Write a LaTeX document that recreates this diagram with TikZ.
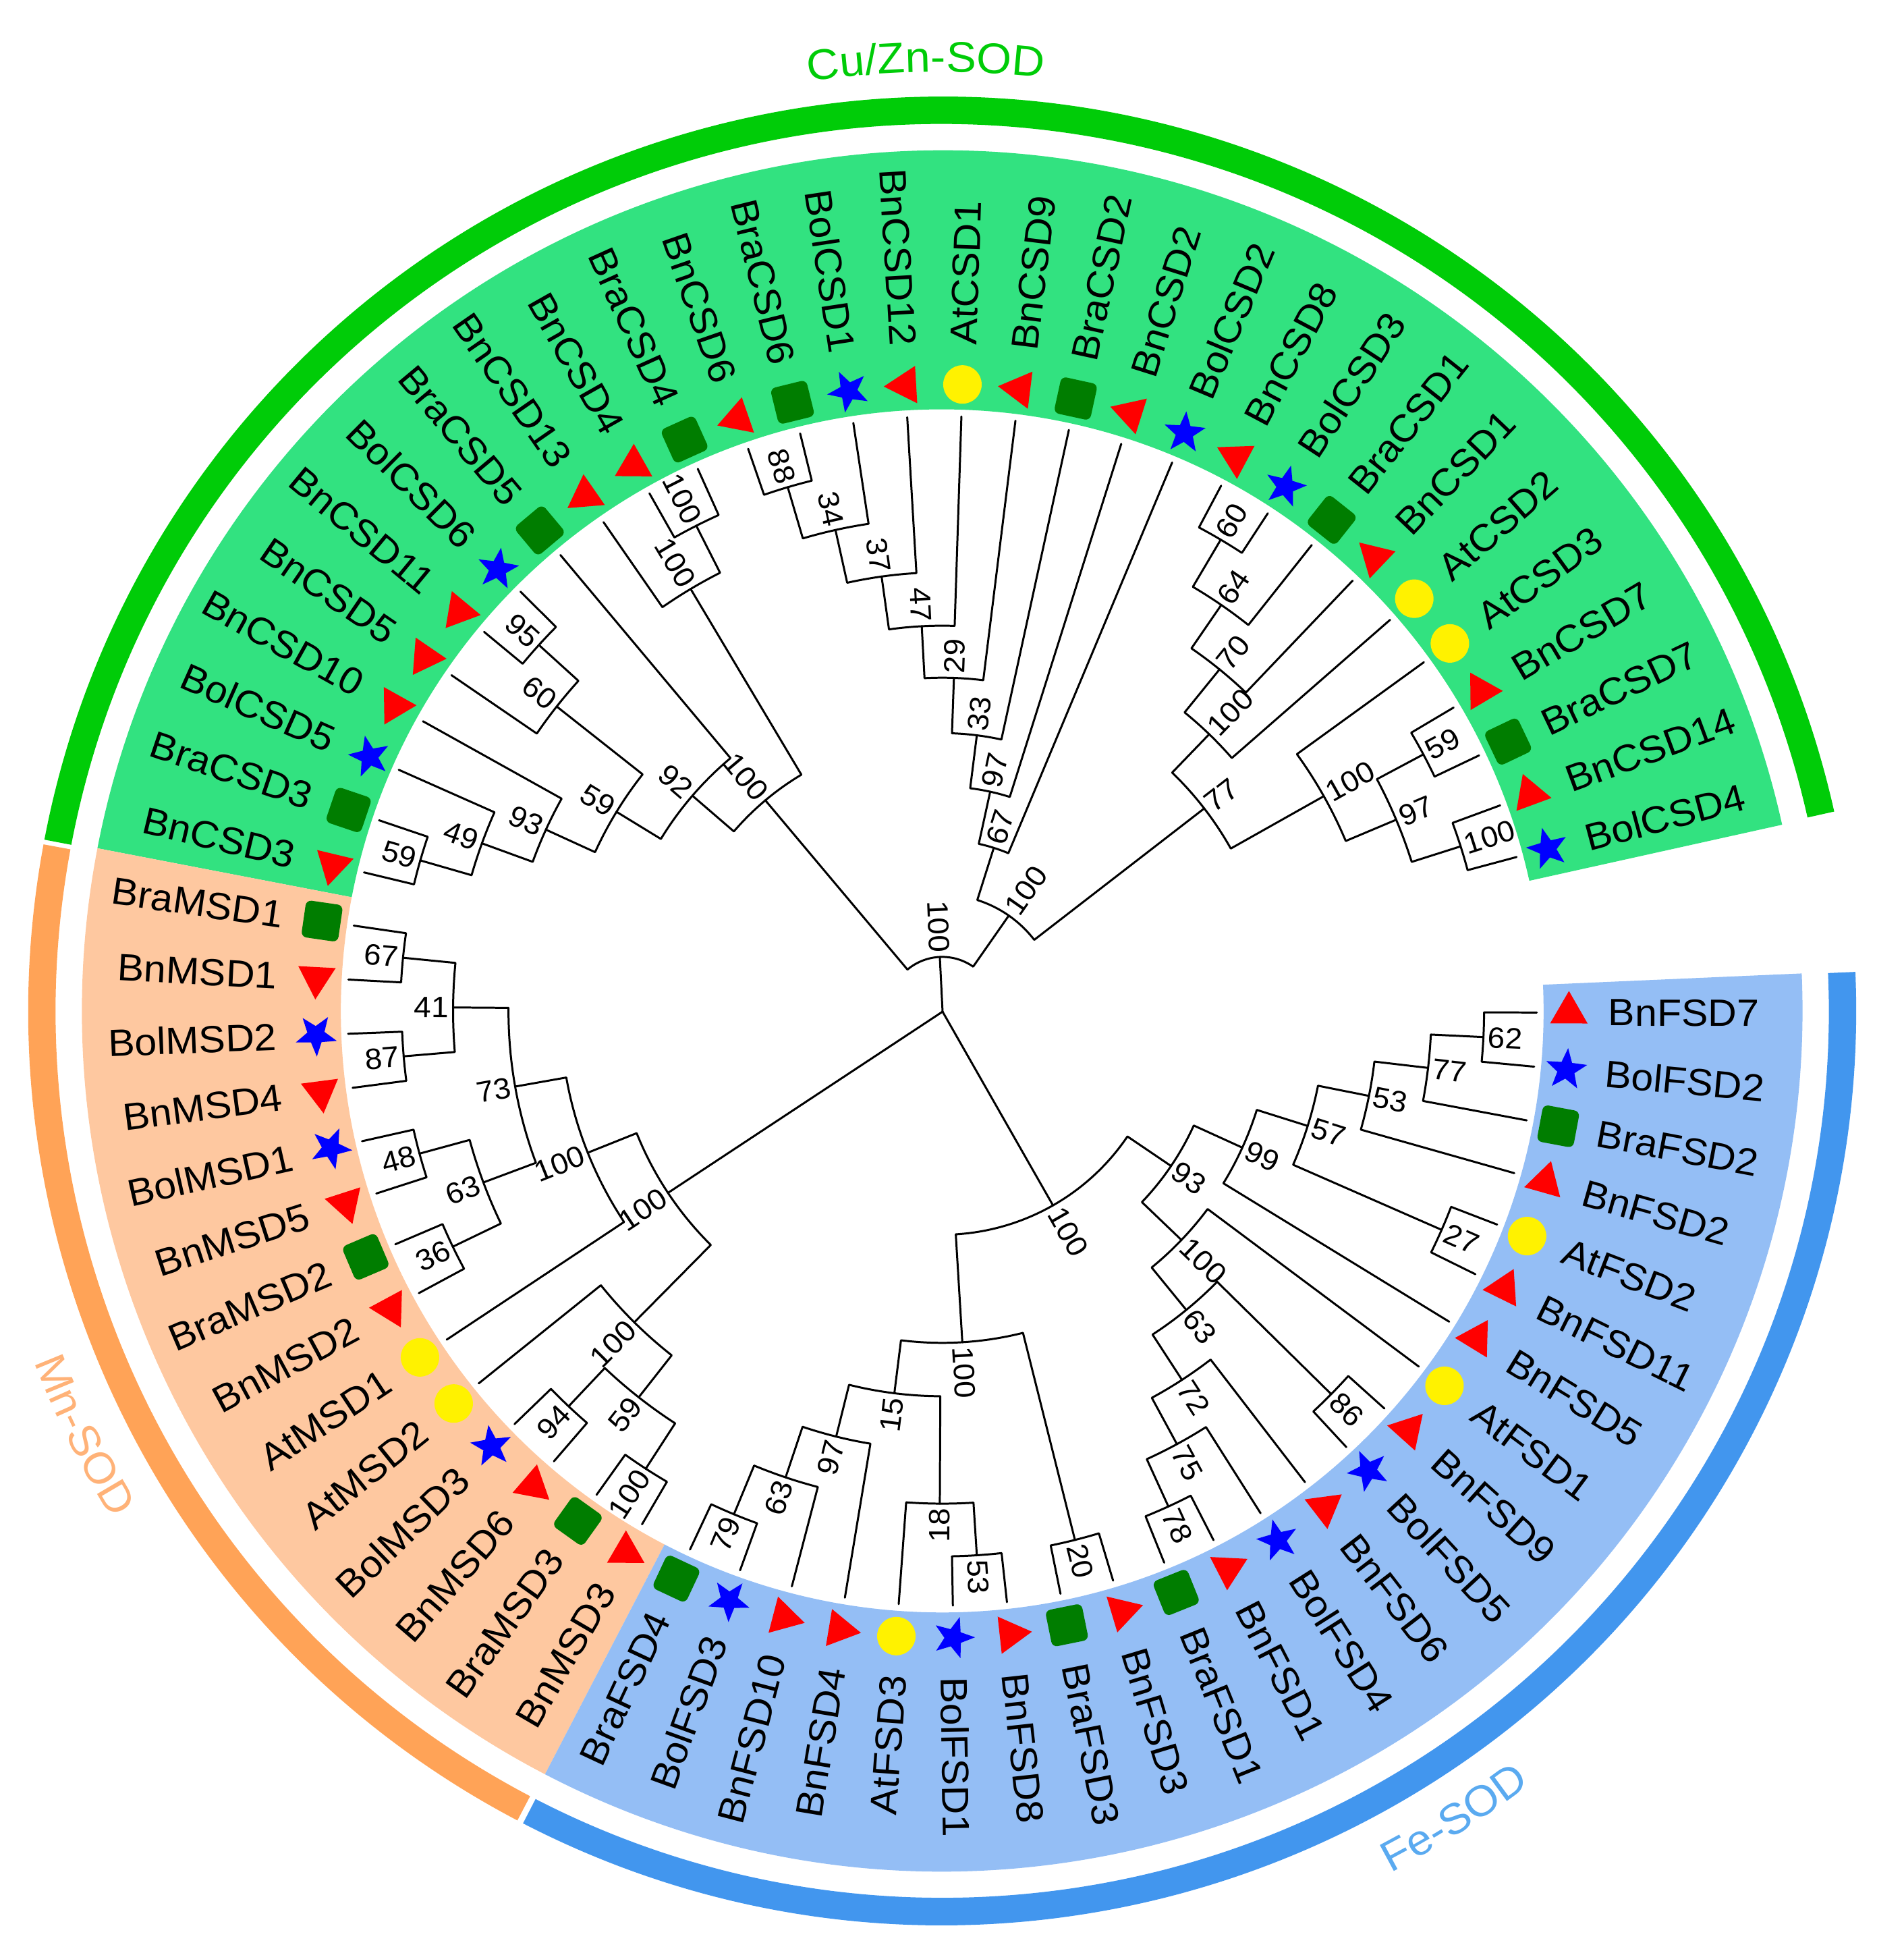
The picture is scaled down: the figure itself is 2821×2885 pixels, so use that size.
\documentclass[tikz,border=0pt]{standalone}
\usepackage{fontspec}
\setmainfont[FakeStretch=1.05]{Liberation Sans}
\usetikzlibrary{shapes.geometric,decorations.text}
\definecolor{cuBand}{RGB}{50,226,128}
\definecolor{mnBand}{RGB}{254,200,160}
\definecolor{feBand}{RGB}{148,190,245}
\definecolor{cuRing}{RGB}{0,204,8}
\definecolor{mnRing}{RGB}{255,163,87}
\definecolor{feRing}{RGB}{66,150,238}
\definecolor{mnText}{RGB}{255,178,120}
\definecolor{feText}{RGB}{90,170,240}
\definecolor{sqGreen}{RGB}{0,125,0}
\tikzset{
  branch/.style={draw=black,line width=0.85pt,line cap=round,line join=round},
  tiplabel/.style={inner sep=0pt,font=\fontsize{16}{18}\selectfont},
  bootlabel/.style={inner sep=0pt,font=\fontsize{12.4}{14}\selectfont},
  mBn/.style={regular polygon,regular polygon sides=3,minimum size=0.64cm,inner sep=0pt,fill=red,rotate=#1},
  mBol/.style={star,star points=5,star point ratio=2.4,minimum size=0.64cm,inner sep=0pt,fill=blue,rotate=#1},
  mBra/.style={rectangle,rounded corners=0.08cm,minimum size=0.55cm,inner sep=0pt,fill=sqGreen,rotate=#1},
  mAt/.style={circle,minimum size=0.57cm,inner sep=0pt,fill=yellow},
}
% tip: name, angle, marker style
\newcommand\sodtip[3]{%
  \expandafter\xdef\csname ang@#1\endcsname{#2}%
  \coordinate (#1) at (#2:869);
  \node[#3=#2] (#1-m) at (#2:916) {};
  \pgfmathparse{(#2>90 && #2<270)?1:0}%
  \ifnum\pgfmathresult=1\relax
    \pgfmathsetmacro\rotang{#2-180}%
    \node[tiplabel,anchor=east,rotate=\rotang] (#1-l) at (#2:973) {#1};
  \else
    \node[tiplabel,anchor=west,rotate=#2] (#1-l) at (#2:973) {#1};
  \fi
}
% internal node: name, radius, child A, child B, bootstrap
\newcommand\clade[5]{%
  \pgfmathsetmacro\aA{\csname ang@#3\endcsname}%
  \pgfmathsetmacro\aB{\csname ang@#4\endcsname}%
  \pgfmathsetmacro\aM{(\aA+\aB)/2}%
  \expandafter\xdef\csname ang@#1\endcsname{\aM}%
  \coordinate (#1) at (\aM:#2);
  \draw[branch] (#3) -- (\aA:#2) arc[start angle=\aA,end angle=\aB,radius=#2] -- (#4);
  \pgfmathsetmacro\rL{#2+6}%
  \pgfmathparse{(\aM>90 && \aM<270)?1:0}%
  \ifnum\pgfmathresult=1\relax
    \pgfmathsetmacro\rotang{\aM-180}%
    \node[bootlabel,anchor=east,rotate=\rotang] (#1-b) at (\aM:\rL) {#5};
  \else
    \node[bootlabel,anchor=west,rotate=\aM] (#1-b) at (\aM:\rL) {#5};
  \fi
}
\newcommand\sector[5]{% a1 a2 r1 r2 colour
  \fill[#5] (#1:#4) arc[start angle=#1,end angle=#2,radius=#4] -- (#2:#3) arc[start angle=#2,end angle=#1,radius=#3] -- cycle;
}
\begin{document}
\begin{tikzpicture}[x=0.01cm,y=0.01cm]
\useasboundingbox (0,0) rectangle (2821,-2885);
\begin{scope}[shift={(1396.5,-1498)},scale=1.014]
  % bands
  \sector{12.5}{169.1}{879}{1257.5}{cuBand}
  \sector{169.1}{242.5}{879}{1257.5}{mnBand}
  \sector{242.5}{362.5}{879}{1257.5}{feBand}
  % rings
  \sector{12.6}{169.2}{1296}{1336}{cuRing}
  \sector{169.5}{242.3}{1296}{1336}{mnRing}
  \sector{242.7}{362.45}{1296}{1336}{feRing}
  % group titles
  \path[decorate,decoration={text along path,text align=center,
    text={|\fontsize{18.1}{21}\selectfont\color{cuRing}|Cu/Zn-SOD}}]
    (107:1372) arc[start angle=107,end angle=75,radius=1372];
  \path[decorate,decoration={text along path,text align=center,
    text={|\fontsize{18.1}{21}\selectfont\color{mnText}|Mn-SOD}}]
    (198:1423) arc[start angle=198,end angle=214.6,radius=1423];
  \path[decorate,decoration={text along path,text align=center,
    text={|\fontsize{18.1}{21}\selectfont\color{feText}|Fe-SOD}}]
    (294.4:1420) arc[start angle=294.4,end angle=310.4,radius=1420];
  % tips, evenly spaced round the circle
  \foreach \nm/\ty [count=\i from 0] in {BolCSD4/mBol,BnCSD14/mBn,BraCSD7/mBra,BnCSD7/mBn,AtCSD3/mAt,AtCSD2/mAt,BnCSD1/mBn,BraCSD1/mBra,BolCSD3/mBol,BnCSD8/mBn,BolCSD2/mBol,BnCSD2/mBn,BraCSD2/mBra,BnCSD9/mBn,AtCSD1/mAt,BnCSD12/mBn,BolCSD1/mBol,BraCSD6/mBra,BnCSD6/mBn,BraCSD4/mBra,BnCSD4/mBn,BnCSD13/mBn,BraCSD5/mBra,BolCSD6/mBol,BnCSD11/mBn,BnCSD5/mBn,BnCSD10/mBn,BolCSD5/mBol,BraCSD3/mBra,BnCSD3/mBn,BraMSD1/mBra,BnMSD1/mBn,BolMSD2/mBol,BnMSD4/mBn,BolMSD1/mBol,BnMSD5/mBn,BraMSD2/mBra,BnMSD2/mBn,AtMSD1/mAt,AtMSD2/mAt,BolMSD3/mBol,BnMSD6/mBn,BraMSD3/mBra,BnMSD3/mBn,BraFSD4/mBra,BolFSD3/mBol,BnFSD10/mBn,BnFSD4/mBn,AtFSD3/mAt,BolFSD1/mBol,BnFSD8/mBn,BraFSD3/mBra,BnFSD3/mBn,BraFSD1/mBra,BnFSD1/mBn,BolFSD4/mBol,BnFSD6/mBn,BolFSD5/mBol,BnFSD9/mBn,AtFSD1/mAt,BnFSD5/mBn,BnFSD11/mBn,AtFSD2/mAt,BnFSD2/mBn,BraFSD2/mBra,BolFSD2/mBol,BnFSD7/mBn}{
    \pgfmathsetmacro\tipa{15+5.225*\i}
    \sodtip{\nm}{\tipa}{\ty}
  }
  % Cu/Zn clade
  \clade{cA}{795}{BolCSD4}{BnCSD14}{100}
  \clade{cB}{797}{BraCSD7}{BnCSD7}{59}
  \clade{cC}{720}{cA}{cB}{97}
  \clade{cD}{640}{cC}{AtCSD3}{100}
  \clade{cI}{800}{BolCSD3}{BnCSD8}{60}
  \clade{cH}{720}{BraCSD1}{cI}{64}
  \clade{cG}{643}{BnCSD1}{cH}{70}
  \clade{cF}{562}{AtCSD2}{cG}{100}
  \clade{cE}{484}{cD}{cF}{77}
  \clade{cJ}{798}{BraCSD6}{BnCSD6}{88}
  \clade{cK}{720}{BolCSD1}{cJ}{34}
  \clade{cL}{641}{BnCSD12}{cK}{37}
  \clade{cM}{563}{AtCSD1}{cL}{47}
  \clade{cN}{487}{BnCSD9}{cM}{29}
  \clade{cO}{406}{BraCSD2}{cN}{33}
  \clade{cP}{328}{BnCSD2}{cO}{97}
  \clade{cQ}{250}{BolCSD2}{cP}{67}
  \clade{cR}{170}{cE}{cQ}{100}
  \clade{cS}{795}{BraCSD4}{BnCSD4}{100}
  \clade{cT}{718}{cS}{BnCSD13}{100}
  \clade{cU}{794}{BraCSD3}{BnCSD3}{59}
  \clade{cV}{716}{BolCSD5}{cU}{49}
  \clade{cW}{637}{BnCSD10}{cV}{93}
  \clade{cX}{796}{BolCSD6}{BnCSD11}{95}
  \clade{cY}{718}{cX}{BnCSD5}{60}
  \clade{cZ}{558}{cY}{cW}{59}
  \clade{cAA}{482}{BraCSD5}{cZ}{92}
  \clade{cAB}{402}{cT}{cAA}{100}
  \clade{cuTop}{79}{cR}{cAB}{100}
  % Mn clade
  \clade{mA}{792}{BraMSD1}{BnMSD1}{67}
  \clade{mB}{790}{BolMSD2}{BnMSD4}{87}
  \clade{mC}{715}{mA}{mB}{41}
  \clade{mD}{792}{BolMSD1}{BnMSD5}{48}
  \clade{mE}{794}{BraMSD2}{BnMSD2}{36}
  \clade{mF}{716}{mD}{mE}{63}
  \clade{mG}{634}{mC}{mF}{73}
  \clade{mH}{558}{mG}{AtMSD1}{100}
  \clade{mI}{795}{BolMSD3}{BnMSD6}{94}
  \clade{mJ}{797}{BraMSD3}{BnMSD3}{100}
  \clade{mK}{718}{mI}{mJ}{59}
  \clade{mL}{640}{AtMSD2}{mK}{100}
  \clade{mnTop}{481}{mH}{mL}{100}
  % Fe clade
  \clade{fA}{796}{BraFSD4}{BolFSD3}{79}
  \clade{fB}{719}{fA}{BnFSD10}{63}
  \clade{fC}{641}{fB}{BnFSD4}{97}
  \clade{fD}{797}{BolFSD1}{BnFSD8}{53}
  \clade{fE}{720}{AtFSD3}{fD}{18}
  \clade{fF}{563}{fC}{fE}{15}
  \clade{fG}{797}{BraFSD3}{BnFSD3}{20}
  \clade{fH}{485}{fF}{fG}{100}
  \clade{fI}{796}{BraFSD1}{BnFSD1}{78}
  \clade{fJ}{720}{fI}{BolFSD4}{75}
  \clade{fK}{643}{fJ}{BnFSD6}{72}
  \clade{fL}{798}{BolFSD5}{BnFSD9}{86}
  \clade{fM}{564}{fK}{fL}{63}
  \clade{fN}{484}{fM}{AtFSD1}{100}
  \clade{fO}{797}{BnFSD11}{AtFSD2}{27}
  \clade{fP}{792}{BolFSD2}{BnFSD7}{62}
  \clade{fQ}{715}{BraFSD2}{fP}{77}
  \clade{fR}{636}{BnFSD2}{fQ}{53}
  \clade{fS}{560}{fO}{fR}{57}
  \clade{fT}{482}{BnFSD5}{fS}{99}
  \clade{fU}{404}{fN}{fT}{93}
  \clade{feTop}{327}{fH}{fU}{100}
  % root
  \coordinate (root) at (0.5,-1);
  \draw[branch] (cuTop) -- (root);
  \draw[branch] (mnTop) -- (root);
  \draw[branch] (feTop) -- (root);
\end{scope}
\end{tikzpicture}
\end{document}
